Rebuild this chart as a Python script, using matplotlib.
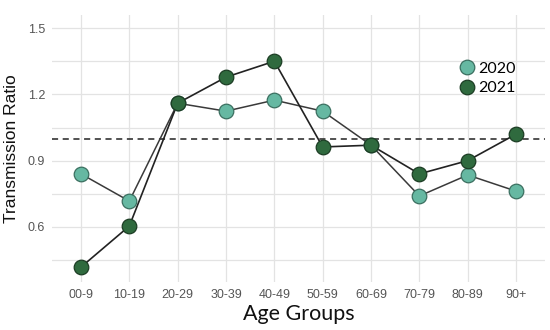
import matplotlib
matplotlib.use("Agg")
import matplotlib.pyplot as plt
import numpy as np

age_groups = ["00-9", "10-19", "20-29", "30-39", "40-49", "50-59", "60-69", "70-79", "80-89", "90+"]
ratio_2020 = [0.84, 0.717, 1.16, 1.124, 1.174, 1.124, 0.97, 0.74, 0.835, 0.762]
ratio_2021 = [0.418, 0.604, 1.16, 1.278, 1.35, 0.962, 0.97, 0.84, 0.90, 1.02]
y_ticks = [0.6, 0.9, 1.2, 1.5]
y_minor = [0.45, 0.75, 1.05, 1.35]
reference = 1.0

fig = plt.figure(figsize=(5.5, 3.3), dpi=100)
ax = fig.add_axes([0.0945, 0.145, 0.8965, 0.81])
x = np.arange(len(age_groups))

ax.set_xlim(-0.6, 9.6)
ax.set_ylim(0.35, 1.56)
ax.set_yticks(y_ticks)
ax.set_yticks(y_minor, minor=True)
ax.set_xticks(x)
ax.set_xticklabels(age_groups)
ax.grid(True, which="major", color="#e3e3e3", linewidth=0.9)
ax.grid(True, which="minor", axis="y", color="#e3e3e3", linewidth=0.9)
ax.set_axisbelow(True)
for s in ax.spines.values():
    s.set_visible(False)
ax.tick_params(which="both", length=0, labelsize=9, labelcolor="#555555", pad=5)
for lab in ax.get_xticklabels() + ax.get_yticklabels():
    lab.set_family(["Liberation Sans", "DejaVu Sans"])

ax.axhline(reference, color="#222222", linestyle=(0, (4, 3)), linewidth=1.1, zorder=2)

ax.plot(x, ratio_2020, color="#3a3a3a", linewidth=1.1, zorder=3)
ax.plot(x, ratio_2021, color="#222222", linewidth=1.2, zorder=3)
ax.plot(x, ratio_2020, linestyle="none", marker="o", markersize=10.5,
        markerfacecolor="#66b8a2", markeredgecolor="#3b6f60", markeredgewidth=0.9,
        zorder=4, label="2020")
ax.plot(x, ratio_2021, linestyle="none", marker="o", markersize=10.5,
        markerfacecolor="#2f6a3e", markeredgecolor="#1c3d24", markeredgewidth=0.9,
        zorder=5, label="2021")

ax.set_ylabel("Transmission Ratio", fontsize=12.5, family=["Liberation Sans", "DejaVu Sans"], color="#111111", labelpad=6)
ax.set_xlabel("Age Groups", fontsize=15.5, family=["Lato", "DejaVu Sans"], color="#111111", labelpad=2)

leg = ax.legend(loc="upper left", bbox_to_anchor=(0.81, 0.85), frameon=False,
                prop={"family": ["Lato", "DejaVu Sans"], "size": 11.5},
                handletextpad=0.1, labelspacing=0.35, handlelength=1.2, borderaxespad=0)

fig.savefig("out.png", dpi=100)
